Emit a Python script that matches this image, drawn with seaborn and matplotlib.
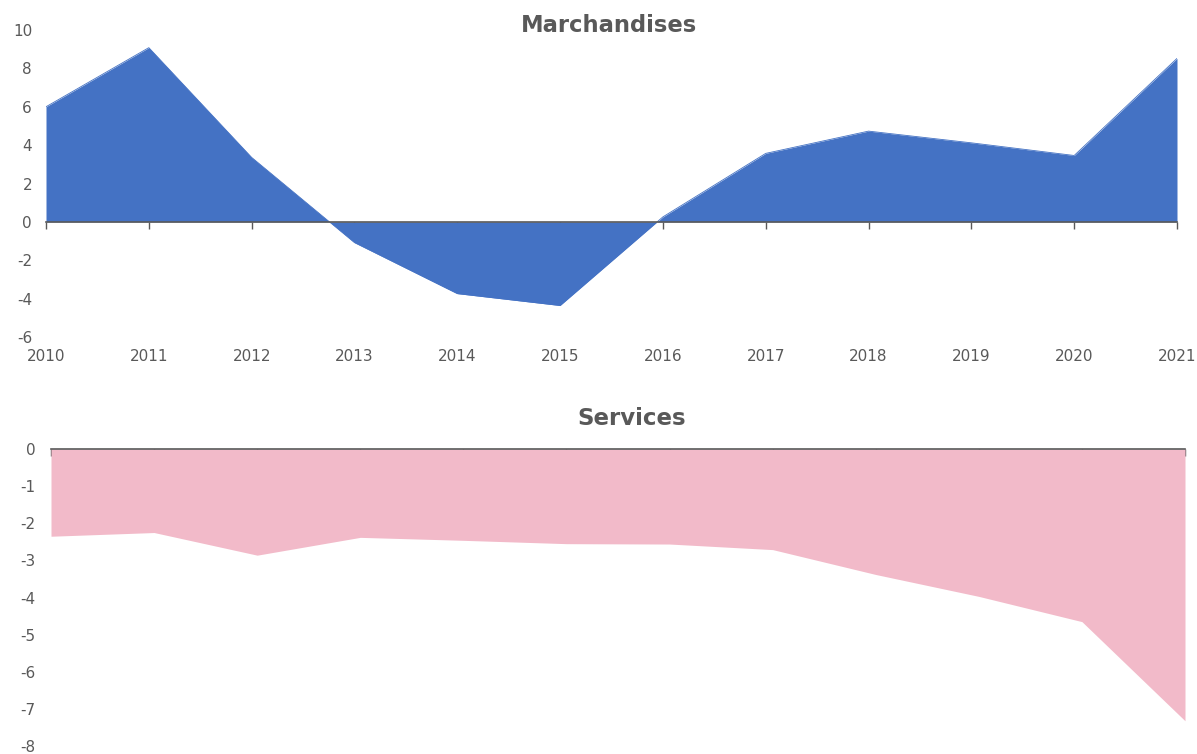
import numpy as np
import pandas as pd
import matplotlib.pyplot as plt
import seaborn as sns

# Data
years = list(range(2010, 2022))
marchandises = [6.0, 9.08, 3.36, -1.08, -3.74, -4.36, 0.26, 3.57, 4.73, 4.12, 3.46, 8.52]
services = [-2.35, -2.25, -2.86, -2.38, -2.46, -2.55, -2.56, -2.71, -3.38, -3.97, -4.65, -7.32]

df = pd.DataFrame({'annee': years, 'Marchandises': marchandises, 'Services': services})

BLUE = '#4472C4'
PINK = '#F2BAC9'
GREY = '#595959'

sns.set_theme(style='white')
plt.rcParams['font.family'] = ['DejaVu Sans']
plt.rcParams['axes.unicode_minus'] = False

fig = plt.figure(figsize=(11.97, 7.54), dpi=100)

#Top chart: Marchandises
ax1 = fig.add_axes([46 / 1197, 1 - 337 / 754, (1177 - 46) / 1197, (337 - 30) / 754])
ax1.fill_between(df['annee'], df['Marchandises'], 0, color=BLUE, linewidth=0, interpolate=True)
sns.lineplot(data=df, x='annee', y='Marchandises', ax=ax1, color=BLUE, linewidth=0.6)
ax1.set_xlim(2010, 2021)
ax1.set_ylim(-6, 10)
ax1.set_yticks(np.arange(-6, 11, 2))
ax1.set_xticks(years)
ax1.set_xlabel('')
ax1.set_ylabel('')
for s in ['top', 'right', 'left']:
    ax1.spines[s].set_visible(False)
ax1.spines['bottom'].set_position(('data', 0))
ax1.spines['bottom'].set_color(GREY)
ax1.spines['bottom'].set_linewidth(1.2)
ax1.tick_params(axis='x', direction='out', length=5, width=1, color=GREY, labelbottom=False, bottom=True)
ax1.tick_params(axis='y', length=0, pad=10, labelsize=11, labelcolor=GREY)

# year labels sit at the bottom of the plot, not on the zero line
sec = ax1.secondary_xaxis('bottom')
sec.set_xticks(years)
sec.set_xticklabels([str(y) for y in years])
sec.spines['bottom'].set_visible(False)
sec.tick_params(axis='x', length=0, pad=9, labelsize=11, labelcolor=GREY)

fig.text(609 / 1197, 1 - 26 / 754, 'Marchandises', ha='center', va='center',
         fontsize=16.3, fontweight='bold', color=GREY)

#Bottom chart: Services
ax2 = fig.add_axes([51 / 1197, 1 - 746 / 754, (1185 - 51) / 1197, (746 - 449) / 754])
ax2.fill_between(df['annee'], df['Services'], 0, color=PINK, linewidth=0)
ax2.set_xlim(2010, 2021)
ax2.set_ylim(-8, 0)
ax2.set_yticks(np.arange(-8, 1, 1))
ax2.set_xticks(years)
for s in ['bottom', 'right', 'left']:
    ax2.spines[s].set_visible(False)
ax2.spines['top'].set_color(GREY)
ax2.spines['top'].set_linewidth(1.2)
ax2.xaxis.set_ticks_position('top')
ax2.tick_params(axis='x', direction='in', length=5, width=1, color=GREY, labeltop=False, labelbottom=False)
ax2.tick_params(axis='y', length=0, pad=11, labelsize=11, labelcolor=GREY)

fig.text(632 / 1197, 1 - 418 / 754, 'Services', ha='center', va='center',
         fontsize=16.5, fontweight='bold', color=GREY)

fig.savefig('out.png', dpi=100)
